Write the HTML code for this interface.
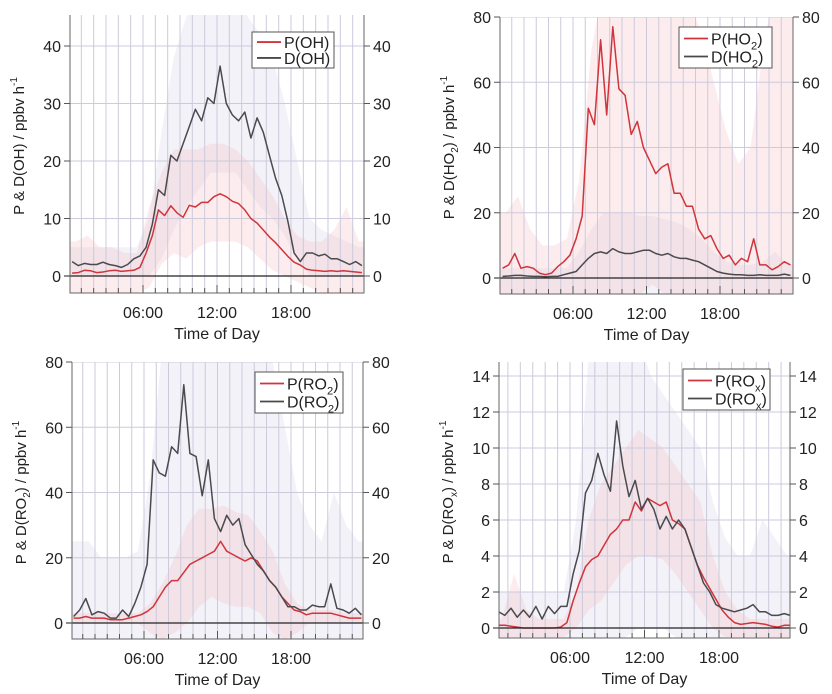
<!DOCTYPE html>
<html><head><meta charset="utf-8">
<style>
body{margin:0;background:#fff;}
svg{display:block;font-family:"Liberation Sans",Arial,sans-serif;}
</style></head>
<body>
<svg id="chart" width="832" height="694" viewBox="0 0 832 694" xmlns="http://www.w3.org/2000/svg"></svg>
<script>
// Time axis (hours) for half-hourly series
const halfHours = [0,0.5,1,1.5,2,2.5,3,3.5,4,4.5,5,5.5,6,6.5,7,7.5,8,8.5,9,9.5,10,10.5,11,11.5,12,12.5,13,13.5,14,14.5,15,15.5,16,16.5,17,17.5,18,18.5,19,19.5,20,20.5,21,21.5,22,22.5,23,23.5];
const hours = [0,1,2,3,4,5,6,7,8,9,10,11,12,13,14,15,16,17,18,19,20,21,22,23];
const timeTickLabels = ["06:00","12:00","18:00"];
const timeTickValues = [6,12,18];

// Panel 1 : OH
const P_OH = [0.5,0.6,1.0,0.9,0.6,0.7,0.9,1.0,0.8,0.9,1.0,1.5, 4,7,11.5,10.5,12.2,11,10.2,12.3,12,12.8,12.8,13.8, 14.3,13.8,13.0,12.6,11.5,10.0,9.2,8.0,6.8,5.8,4.6,3.4, 2.4,1.9,1.2,1.0,0.9,0.8,0.9,0.8,0.9,0.8,0.7,0.6];
const D_OH = [2.5,1.8,2.2,2.0,2.0,2.4,2.0,1.8,1.5,2.0,3.0,3.5, 5,9,15,14,21,20,23,26,29,27,31,30, 36.5,30,28,27,28.5,24,27.5,25,21,17,14,9.5, 4,2.5,4,4,3.5,3.8,3,3,2.5,2,2.5,1.8];
const D_OH_hi = [5,5,5,5,5,5,10,25,38,45,50,50,50,50,45,42,38,30,20,10,8,7,6,5];
const D_OH_lo = [0,0,0,0,0,0,0,3,8,12,15,18,18,18,15,12,10,7,3,0,0,0,0,0];
const P_OH_hi = [6,7,5,5,4,4,12,18,22,22,22,23,23,22,20,17,14,10,7,6,6,8,12,6];
const P_OH_lo = [-3,-3,-3,-3,-3,-3,-2,2,4,3,5,6,6,6,5,3,1,0,-1,-2,-3,-3,-3,-3];
const OH_ticks = [0,10,20,30,40];

// Panel 2 : HO2
const P_HO2 = [3,4,7.5,3,3.5,3,1.5,1,1.5,3.5,5,7, 12,19,52,47,73,50,77,58,56,44,48,40, 36,32,34,35,26,26,22,22,15,12,13,9, 6,7,4,6,5,12,4,4,2.5,3.5,5,4];
const D_HO2 = [0.5,0.6,0.8,0.8,0.6,0.5,0.5,0.4,0.5,0.5,1,1.5, 2,4,6,7.5,8,7.5,9,8,7.5,7.5,8,8.5, 8.5,7.5,7,7.5,6.5,6,6,5.5,5,4,3,2, 1.5,1.2,1,1,0.8,0.8,1,0.8,0.8,0.8,1.2,0.8];
const P_HO2_hi = [20,25,15,10,10,12,30,70,90,90,90,90,90,90,90,85,75,60,45,35,40,70,90,90];
const P_HO2_lo = [-5,-5,-5,-5,-5,-5,-5,-5,-5,-5,-5,-5,-2,-5,-5,-5,-5,-5,-5,-5,-5,-5,-5,-5];
const D_HO2_hi = [3,3,3,3,3,3,8,15,20,20,20,19,19,18,17,15,12,8,5,4,4,5,8,4];
const D_HO2_lo = [-5,-5,-5,-5,-5,-5,-5,-5,-5,-5,-5,-5,-5,-5,-5,-5,-5,-5,-5,-5,-5,-5,-5,-5];
const HO2_ticks = [0,20,40,60,80];

// Panel 3 : RO2
const D_RO2 = [2,4,7.5,2.5,3.5,3,1.5,1.5,4,2,6,11, 18,50,46,45,54,52,73,52,51,39,50,32, 28,33,30,32,24,21,18,16,13,11,8,5, 5,4,4,5.5,5,5,12,4.5,4,3,4.5,2.5];
const P_RO2 = [1.5,1.5,2,1.5,1.5,1.5,1,1,1,1.5,2,2.5, 3.5,5,8,11,13,13,15.5,18,19,20,21,22, 25,22,21,20,19,20,19,16,13,11,8,6, 4,3.5,2.5,3,3,3,3,2.5,2,1.5,1.5,1.5];
const D_RO2_hi = [25,25,20,20,20,22,45,85,90,90,90,90,90,90,90,90,80,60,40,30,25,40,30,25];
const D_RO2_lo = [-10,-10,-10,-10,-10,-10,-10,-10,-10,-10,-10,-10,-10,-10,-10,-10,-10,-10,-10,-10,-10,-10,-10,-10];
const P_RO2_hi = [3,3,3,3,3,3,6,12,20,30,35,35,36,34,33,28,22,12,6,4,4,4,3,3];
const P_RO2_lo = [0,0,0,0,0,0,-3,-5,-3,0,5,8,6,5,5,3,-3,-5,-3,0,0,0,0,0];
const RO2_ticks = [0,20,40,60,80];

// Panel 4 : ROx
const D_ROx = [0.9,0.7,1.1,0.6,1.0,0.6,1.2,0.5,1.2,0.8,1.2,1.2, 3.0,4.3,7.5,8.2,9.7,8.5,7.6,11.5,9.0,7.3,8.2,6.6, 7.2,6.6,5.5,6.2,5.5,6.0,5.5,4.5,3.5,2.5,2.0,1.3, 1.1,1.0,0.9,1.0,1.1,1.3,0.9,0.9,0.7,0.7,0.8,0.7];
const P_ROx = [0.15,0.15,0.1,0.05,0,0,0,0,0,0,0.05,0.3, 1.5,2.5,3.4,3.8,4.0,4.6,5.2,5.5,6.0,6.0,7.0,6.5, 7.2,7.0,6.8,7.0,6.0,5.8,5.5,4.5,3.5,2.8,2.2,1.6, 1.0,0.6,0.3,0.2,0.25,0.3,0.25,0.2,0.1,0.05,0.15,0.15];
const D_ROx_hi = [2,2,2,2,2,2,6,15,16,16,16,16,14,13,12,11,10,7,5,4,4,6,5,4];
const D_ROx_lo = [-1,-1,-1,-1,-1,-1,-1,-1,-1,-1,-0.5,0,0,0,-0.5,-1,-1,-1,-1,-1,-1,-1,-1,-1];
const P_ROx_hi = [0.5,3,1,0.5,0.5,0.5,2,6,8,9,10,11,10.5,10,9,8,7,4,2,1,0.5,0.5,0.5,0.5];
const P_ROx_lo = [-0.5,-0.5,-0.5,-0.5,-0.5,-0.5,0,1,1.5,2.5,3.5,4,4,3.8,3,2,1,0,-0.5,-0.5,-0.5,-0.5,-0.5,-0.5];
const ROx_ticks = [0,2,4,6,8,10,12,14];

const NS = "http://www.w3.org/2000/svg";
const svg = document.getElementById('chart');
function mk(tag, attrs, parent){
  const e = document.createElementNS(NS, tag);
  for (const k in attrs) e.setAttribute(k, attrs[k]);
  (parent||svg).appendChild(e);
  return e;
}

const panels = [
  {id:'oh', L:70,R:364,T:15,B:293,x6:143,x18:291,y0:276,vRef:40,yRef:46,ticks:OH_ticks,
   P:P_OH,D:D_OH,Phi:P_OH_hi,Plo:P_OH_lo,Dhi:D_OH_hi,Dlo:D_OH_lo,sp:'OH',sub:'',
   leg:[252,32,82,36]},
  {id:'ho2', L:500,R:793,T:17,B:294,x6:573,x18:720,y0:278,vRef:80,yRef:17,ticks:HO2_ticks,
   P:P_HO2,D:D_HO2,Phi:P_HO2_hi,Plo:P_HO2_lo,Dhi:D_HO2_hi,Dlo:D_HO2_lo,sp:'HO',sub:'2',
   leg:[679,27,93,41]},
  {id:'ro2', L:72,R:363,T:362,B:639,x6:144,x18:291,y0:623,vRef:80,yRef:362,ticks:RO2_ticks,
   P:P_RO2,D:D_RO2,Phi:P_RO2_hi,Plo:P_RO2_lo,Dhi:D_RO2_hi,Dlo:D_RO2_lo,sp:'RO',sub:'2',
   leg:[255,372,88,41]},
  {id:'rox', L:499,R:790,T:362,B:638,x6:570,x18:719,y0:628,vRef:14,yRef:376,ticks:ROx_ticks,
   P:P_ROx,D:D_ROx,Phi:P_ROx_hi,Plo:P_ROx_lo,Dhi:D_ROx_hi,Dlo:D_ROx_lo,sp:'RO',sub:'x',
   leg:[683,369,87,41]}
];

function speciesText(parent, prefix, p, x, y, size, anchor, name){
  const t = mk('text',{x:x,y:y,'font-size':size,fill:'#222','text-anchor':anchor||'start'},parent);
  
  
  t.appendChild(document.createTextNode(prefix + '(' + p.sp));
  if (p.sub){
    const s = mk('tspan',{'font-size':size*0.7,dy:size*0.3},t);
    s.textContent = p.sub;
    const r = mk('tspan',{dy:-size*0.3},t);
    r.textContent = ')';
  } else t.appendChild(document.createTextNode(')'));
  return t;
}

panels.forEach((p, pi) => {
  const g = mk('g',{});
  
  
  const xs = h => p.x6 + (h - 6) * (p.x18 - p.x6) / 12;
  const ys = v => p.y0 - v * (p.y0 - p.yRef) / p.vRef;
  const clipId = 'clip' + pi;
  const cp = mk('clipPath',{id:clipId},g);
  mk('rect',{x:p.L,y:p.T,width:p.R-p.L,height:p.B-p.T},cp);
  const plot = mk('g',{'clip-path':'url(#'+clipId+')'},g);
  
  

  function band(hi, lo, fill, name){
    let d = 'M' + xs(-0.5) + ',' + ys(hi[0]).toFixed(1);
    hours.forEach((h,i)=>{ d += 'L' + xs(h+0.5).toFixed(1) + ',' + ys(hi[i]).toFixed(1); });
    d += 'L' + xs(24.5) + ',' + ys(hi[hi.length-1]).toFixed(1);
    d += 'L' + xs(24.5) + ',' + ys(lo[lo.length-1]).toFixed(1);
    for (let i = hours.length-1; i >= 0; i--) d += 'L' + xs(hours[i]+0.5).toFixed(1) + ',' + ys(lo[i]).toFixed(1);
    d += 'L' + xs(-0.5) + ',' + ys(lo[0]).toFixed(1) + 'Z';
    const e = mk('path',{d:d,fill:fill,stroke:'none'},plot);
    
    
  }
  band(p.Dhi, p.Dlo, 'rgba(215,215,232,0.32)', 'd-range-band-' + p.id);
  band(p.Phi, p.Plo, 'rgba(248,175,180,0.24)', 'p-range-band-' + p.id);

  for (let h = 1; h < 24; h++){
    const e = mk('line',{x1:xs(h),x2:xs(h),y1:p.T,y2:p.B,stroke:'#cdcadc','stroke-width':1},plot);
    
    
  }
  p.ticks.forEach(v => {
    if (v === 0) return;
    const e = mk('line',{x1:p.L,x2:p.R,y1:ys(v),y2:ys(v),stroke:'#cdcadc','stroke-width':1},plot);
    
    
  });

  function line(arr, color, name){
    const d = arr.map((v,i)=>(i?'L':'M') + xs(halfHours[i]+0.25).toFixed(1) + ',' + ys(v).toFixed(1)).join('');
    const e = mk('path',{d:d,fill:'none',stroke:color,'stroke-width':1.5,'stroke-linejoin':'round'},plot);
    
    
  }
  line(p.P, '#d0343c', 'p-line-' + p.id);
  line(p.D, '#4a4a4e', 'd-line-' + p.id);

  const z = mk('line',{x1:p.L-6,x2:p.R,y1:ys(0),y2:ys(0),stroke:'#222','stroke-width':1.2},g);
  
  

  const ax = mk('path',{d:'M'+p.L+','+p.T+'V'+p.B+'H'+p.R+'V'+p.T,fill:'none',stroke:'#666','stroke-width':1},g);
  
  
  for (let h = 1; h < 24; h++){
    const len = (h % 6 === 0) ? 8 : 5;
    const e = mk('line',{x1:xs(h),x2:xs(h),y1:p.B,y2:p.B-len,stroke:'#555','stroke-width':1},g);
    
    
  }
  timeTickValues.forEach((h,i)=>{
    const t = mk('text',{x:xs(h),y:p.B+25,'font-size':16,'text-anchor':'middle',fill:'#222'},g);
    
    
    t.textContent = timeTickLabels[i];
  });
  const xt = mk('text',{x:xs(12),y:p.B+46,'font-size':16,'text-anchor':'middle',fill:'#222'},g);
  
  
  xt.textContent = 'Time of Day';

  p.ticks.forEach(v => {
    const y = ys(v);
    const a = mk('line',{x1:p.L-6,x2:p.L,y1:y,y2:y,stroke:'#555'},g);
    
    
    const b = mk('line',{x1:p.R,x2:p.R+6,y1:y,y2:y,stroke:'#555'},g);
    
    
    const t1 = mk('text',{x:p.L-9,y:y+6,'font-size':16,'text-anchor':'end',fill:'#222'},g);
    
    
    t1.textContent = v;
    const t2 = mk('text',{x:p.R+9,y:y+6,'font-size':16,'text-anchor':'start',fill:'#222'},g);
    
    
    t2.textContent = v;
  });

  const cx = p.L - 46, cy = (p.T + p.B) / 2 - 8;
  const yg = mk('g',{transform:'translate('+cx+','+cy+') rotate(-90)'},g);
  
  
  const yt = mk('text',{x:0,y:0,'font-size':15,'text-anchor':'middle',fill:'#222'},yg);
  
  
  yt.appendChild(document.createTextNode('P & D(' + p.sp));
  if (p.sub){
    const s = mk('tspan',{'font-size':10,dy:4},yt); s.textContent = p.sub;
    const r = mk('tspan',{dy:-4},yt); r.textContent = ') / ppbv h';
  } else yt.appendChild(document.createTextNode(') / ppbv h'));
  const sup = mk('tspan',{'font-size':10,dy:-7},yt); sup.textContent = '-1';

  const [lx,ly,lw,lh] = p.leg;
  const lg = mk('g',{},g);
  
  
  mk('rect',{x:lx,y:ly,width:lw,height:lh,fill:'#fff',stroke:'#555','stroke-width':1},lg);
  const l1 = mk('line',{x1:lx+5,x2:lx+29,y1:ly+lh*0.28,y2:ly+lh*0.28,stroke:'#d0343c','stroke-width':1.8},lg);
  
  
  const l2 = mk('line',{x1:lx+5,x2:lx+29,y1:ly+lh*0.72,y2:ly+lh*0.72,stroke:'#4a4a4e','stroke-width':1.8},lg);
  
  
  speciesText(lg, 'P', p, lx+32, ly+lh*0.28+6, 16, 'start', 'legend-entry-p');
  speciesText(lg, 'D', p, lx+32, ly+lh*0.72+6, 16, 'start', 'legend-entry-d');
});
</script>
</body></html>
